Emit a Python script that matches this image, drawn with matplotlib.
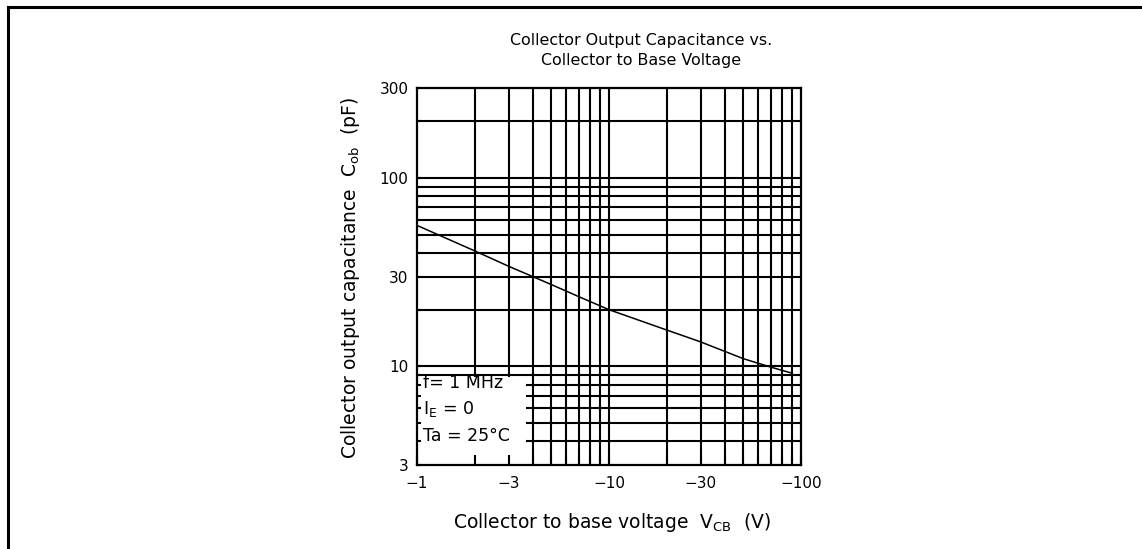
import matplotlib
matplotlib.use("Agg")
import matplotlib.pyplot as plt
from matplotlib.patches import Rectangle
from matplotlib.lines import Line2D

plt.rcParams['font.family'] = ['DejaVu Sans']
plt.rcParams['mathtext.fontset'] = 'custom'
plt.rcParams['mathtext.rm'] = 'DejaVu Sans'
plt.rcParams['mathtext.it'] = 'DejaVu Sans'
plt.rcParams['mathtext.default'] = 'regular'

# Data: collector-to-base voltage magnitude (V) and output capacitance (pF)
vcb = [1, 2, 3, 5, 7, 10, 20, 30, 50, 70, 90]
cob = [56, 41, 34, 27.2, 23.4, 20, 15.6, 13.5, 11.0, 9.9, 9.2]

x_major = [1, 3, 10, 30, 100]
x_labels = ["\u22121", "\u22123", "\u221210", "\u221230", "\u2212100"]
x_grid = [2, 3, 4, 5, 6, 7, 8, 9, 10, 20, 30, 40, 50, 60, 70, 80, 90]
y_major = [3, 10, 30, 100, 300]
y_labels = ["3", "10", "30", "100", "300"]
y_grid = [4, 5, 6, 7, 8, 9, 10, 20, 30, 40, 50, 60, 70, 80, 90, 100, 200]

W, H = 1142, 549
fig = plt.figure(figsize=(W / 100, H / 100), dpi=100)
ax = fig.add_axes([417 / W, (H - 465) / H, 384 / W, 377 / H])
ax.set_xscale('log')
ax.set_yscale('log')
ax.set_xlim(1, 100)
ax.set_ylim(3, 300)

for xv in x_grid:
    ax.axvline(xv, color='black', lw=1.5, zorder=1)
for yv in y_grid:
    ax.axhline(yv, color='black', lw=1.5, zorder=1)

# white condition box in lower-left corner
ax.add_patch(Rectangle((1, 3), 3.7 - 1, 8.75 - 3, facecolor='white',
                       edgecolor='none', zorder=2))

ax.plot(vcb, cob, color='black', lw=1.1, zorder=3)

ax.set_xticks(x_major)
ax.set_xticklabels(x_labels)
ax.set_xticks(x_grid, minor=True)
ax.set_xticklabels([], minor=True)
ax.set_yticks(y_major)
ax.set_yticklabels(y_labels)
ax.set_yticks(y_grid, minor=True)
ax.set_yticklabels([], minor=True)
ax.tick_params(axis='x', which='both', direction='in', length=7.5, width=1.5,
               labelsize=11, pad=8)
ax.tick_params(axis='y', which='both', direction='in', length=3, width=1.5,
               labelsize=11, pad=6)
ax.set_axisbelow(False)
for s in ax.spines.values():
    s.set_linewidth(1.6)
    s.set_zorder(4)

box_fs = 12.5
ax.text(1.07, 8.16, "f= 1 MHz", fontsize=box_fs, va='center', ha='left', zorder=5)
ax.text(1.07, 5.94, "I$_{E}$ = 0", fontsize=box_fs, va='center', ha='left', zorder=5)
ax.text(1.07, 4.27, "Ta = 25\u00b0C", fontsize=box_fs, va='center', ha='left', zorder=5)

fig.text(641 / W, 1 - 40 / H, "Collector Output Capacitance vs.",
         fontsize=11.4, ha='center', va='center')
fig.text(641 / W, 1 - 61 / H, "Collector to Base Voltage",
         fontsize=11.4, ha='center', va='center')

fig.text(612 / W, 1 - 523 / H, "Collector to base voltage  V$_{CB}$  (V)",
         fontsize=13.5, ha='center', va='center')
fig.text(351 / W, 1 - 278 / H, "Collector output capacitance  C$_{ob}$  (pF)",
         fontsize=13.5, ha='center', va='center', rotation=90)

# page border (top and left)
fig.add_artist(Line2D([7.5 / W, 1], [1 - 6.5 / H, 1 - 6.5 / H],
                      transform=fig.transFigure, color='black', lw=2.2))
fig.add_artist(Line2D([7.5 / W, 7.5 / W], [0, 1 - 6.5 / H],
                      transform=fig.transFigure, color='black', lw=2.2))

fig.savefig("out.png", dpi=100)
